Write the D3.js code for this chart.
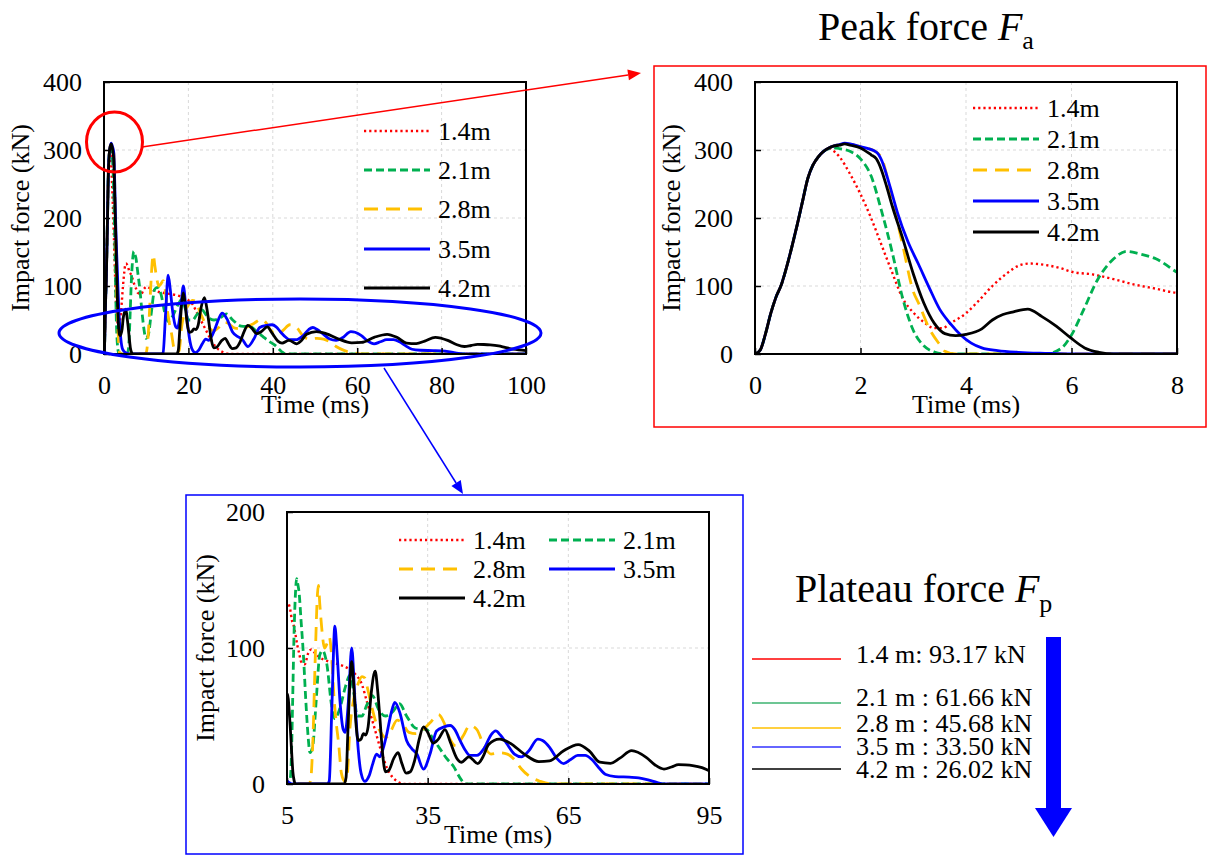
<!DOCTYPE html>
<html>
<head>
<meta charset="utf-8">
<script src="https://cdn.jsdelivr.net/npm/d3@7"></script>
<style>
  body { margin: 0; background: #fff; }
  svg { display: block; }
  text { font-family: "Liberation Serif", "Times New Roman", serif; fill: #000; }
</style>
</head>
<body>
<svg id="fig" width="1208" height="856"></svg>
<script>
// drop heights (m) and plateau forces (kN)
const heights = ["1.4", "2.1", "2.8", "3.5", "4.2"];
const plateauForce = ["93.17", "61.66", "45.68", "33.50", "26.02"];

// time (ms), force (kN) -- first peak is common to all drops
const riseCommon = [[0,0],[0.1,6],[0.2,30],[0.3,60],[0.4,84],[0.5,102],[0.6,128],[0.7,158],
  [0.8,190],[0.9,224],[1.0,258],[1.1,278],[1.2,290],[1.3,298]];

const h14 = [[1.4,303],[1.5,298],[1.6,290],[1.8,265],[2.0,235],[2.2,200],[2.4,160],[2.6,120],
  [2.8,82],[3.0,61],[3.2,47],[3.4,38],[3.55,38],[3.7,45],[4.0,60],[4.2,75],[4.5,100],[4.8,120],
  [5.0,130],[5.2,133],[5.5,131],[5.8,126],[6.0,121],[6.4,117],[6.8,110],[7.2,102],[7.6,96],
  [8.0,90],[8.8,88],[9.5,96],[10.2,99],[11,96],[12,93],[14,90],[16,88],[18,85],[19.5,81],
  [21,73],[22,61],[23,49],[24,37],[25,25],[26.3,12],[27.5,5],[28.5,2],[30,0],[100,0]];

const h21 = [[1.4,302],[1.5,303],[1.6,302],[1.8,298],[2.0,287],[2.2,262],[2.4,210],[2.6,150],
  [2.8,82],[3.0,35],[3.2,12],[3.4,3],[3.6,0],[5.5,0],[5.8,8],[6.0,28],[6.2,60],[6.5,110],
  [6.8,140],[7.05,151],[7.3,147],[7.6,140],[8,120],[8.5,95],[9,62],[9.5,35],[9.9,23],[10.5,28],
  [11.2,60],[12,95],[12.6,98],[13.5,88],[14.5,58],[15.2,48],[16.3,56],[17.5,72],[18.4,80],
  [19.2,68],[20,50],[21,50],[22,58],[23.2,65],[24.5,55],[26,50],[27.5,53],[29,59],[30.5,50],
  [32.5,41],[34.8,40],[36,34],[37.6,26],[39,19],[40.5,13],[42,4],[43,0],[100,0]];

const h28 = [[1.4,303],[1.5,306],[1.6,308],[1.7,309],[2.0,305],[2.3,297],[2.4,288],[2.6,228],
  [2.8,160],[3.0,92],[3.1,75],[3.3,38],[3.5,14],[3.6,4],[3.8,0],[9.5,0],[10,2],[10.5,30],
  [11,90],[11.5,140],[11.7,146],[12,132],[12.4,115],[13,100],[13.5,103],[14,108],[14.5,95],
  [15,65],[15.5,45],[16,30],[16.6,8],[17.3,2],[17.8,5],[18.4,40],[19.2,62],[20,72],[21,79],
  [21.6,78],[22.2,70],[23,58],[24,45],[25,38],[26,34],[27,38],[28.5,47],[29.5,45],[31,38],
  [32.5,37],[34,40],[35.5,45],[37.3,51],[38.5,45],[39.5,35],[41,28],[42.5,35],[44,43],
  [45.5,40],[47,28],[48.5,22],[50.5,23],[52,22],[53.5,18],[55,11],[57,5],[59,2],[61.5,0],[100,0]];

const h35 = [[1.4,303],[1.5,306],[1.6,308],[1.7,310],[2.0,305],[2.3,297],[2.4,285],[2.5,262],
  [2.6,235],[2.7,208],[2.9,165],[3.1,132],[3.3,98],[3.5,66],[3.7,45],[3.9,28],[4.1,16],[4.3,9],
  [4.6,5],[5.0,2.5],[5.5,1],[6.0,0],[13.6,0],[14,2],[14.6,60],[15.2,116],[15.7,95],[16.3,61],
  [17,40],[17.4,38],[18.1,61],[18.8,100],[19.5,61],[20.2,25],[20.8,8],[21.6,2],[22.5,6],
  [23.3,15],[24.1,22],[24.8,20],[25.5,26],[26.3,37],[27.2,52],[28,60],[29.1,52],[30.5,32],
  [31.6,26],[32.7,22],[34.1,11],[35.5,22],[36.9,39],[38.5,42],[39.8,43],[40.8,40],[41.9,32],
  [43,25],[44,21],[45.5,21],[47,26],[48.5,36],[49.5,39],[50.5,36],[51.8,30],[53.5,22],[55,20],
  [56.5,24],[58.5,33],[59.5,32],[61,27],[62.5,19],[64,15],[65.5,18],[67,21],[68.6,21],[70,18],
  [71.5,12],[73,7],[75,5.5],[78,5],[80,4.5],[82,3],[84,1],[85.5,0],[100,0]];

const h42 = [[1.4,303],[1.5,306],[1.6,307],[1.7,309],[1.8,307],[2.0,303],[2.2,293],[2.3,287],
  [2.4,270],[2.5,245],[2.6,218],[2.8,170],[3.0,118],[3.2,75],[3.4,45],[3.6,30],[3.8,27],
  [4.0,29],[4.3,37],[4.5,50],[4.7,58],[4.9,62],[5.17,66],[5.44,55],[5.71,41],[5.98,24],
  [6.25,9],[6.52,2.5],[6.8,0],[17.2,0],[17.6,5],[18.0,40],[18.5,80],[18.8,90],[19.2,75],
  [19.7,45],[20.2,32],[20.8,33],[21.3,37],[21.8,36],[22.3,42],[23,68],[23.8,83],[24.3,70],
  [24.8,49],[25.4,22],[26,9],[26.7,10],[27.8,19],[28.7,23],[29.5,15],[30.4,8],[31.3,9],
  [32.2,17],[33.2,33],[34.1,42],[35,38],[36.2,30],[37.3,33],[38.7,40],[39.8,31],[41.2,19],
  [42.2,16],[43.8,20],[45.7,15],[46.8,20],[48,29],[50.3,33],[52.6,30],[55.6,22],[58.7,16.5],
  [61,17],[64,24.5],[67.1,29],[69.4,24.5],[71.7,16],[74,15.2],[76,19],[78.5,24.5],[81.6,19.6],
  [83.5,14],[85.4,11],[87,12.5],[88.5,14.2],[90,14],[91.5,13.5],[93.5,12],[95,9.8],[97,7],[100,5]];

const series = [h14, h21, h28, h35, h42].map(d => riseCommon.concat(d));

const styles = [
  { color: "#ff0000", dash: "2.2 3", w: 2.4 },
  { color: "#00b050", dash: "8 4", w: 2.8 },
  { color: "#ffc000", dash: "14 8", w: 2.8 },
  { color: "#0000ff", dash: null, w: 2.8 },
  { color: "#000000", dash: null, w: 2.8 }
];

const svg = d3.select("#fig");
const W = 422, H = 272;
const FS = 26;

function drawPanel(cfg) {
  const x = d3.scaleLinear().domain(cfg.xDom).range([0, W]);
  const y = d3.scaleLinear().domain(cfg.yDom).range([H, 0]);
  const g = svg.append("g").attr("transform", `translate(${cfg.x},${cfg.y})`);

  // grid
  g.append("g").selectAll("line").data(cfg.xTicks.slice(1, -1)).join("line")
    .attr("x1", d => x(d)).attr("x2", d => x(d)).attr("y1", 0).attr("y2", H)
    .attr("stroke", "#d9d9d9").attr("stroke-dasharray", "3 3");
  g.append("g").selectAll("line").data(cfg.yTicks.slice(1, -1)).join("line")
    .attr("y1", d => y(d)).attr("y2", d => y(d)).attr("x1", 0).attr("x2", W)
    .attr("stroke", "#d9d9d9").attr("stroke-dasharray", "3 3");

  const clipId = "clip" + cfg.id;
  g.append("clipPath").attr("id", clipId).append("rect")
    .attr("x", 0).attr("y", 0).attr("width", W).attr("height", H);

  const line = d3.line().x(d => x(d[0])).y(d => y(d[1])).curve(d3.curveMonotoneX);
  g.append("g").attr("clip-path", `url(#${clipId})`)
    .selectAll("path").data(series).join("path")
    .attr("d", line)
    .attr("fill", "none")
    .attr("stroke", (d, i) => styles[i].color)
    .attr("stroke-width", (d, i) => styles[i].w)
    .attr("stroke-dasharray", (d, i) => styles[i].dash)
    .attr("stroke-linejoin", "round");

  // axes (inside ticks)
  const ax = g.append("g").attr("transform", `translate(0,${H})`)
    .call(d3.axisBottom(x).tickValues(cfg.xTicks).tickSizeInner(-6).tickSizeOuter(0).tickPadding(22));
  const ay = g.append("g")
    .call(d3.axisLeft(y).tickValues(cfg.yTicks).tickSizeInner(-6).tickSizeOuter(0).tickPadding(22));
  [ax, ay].forEach(a => {
    a.select(".domain").remove();
    a.attr("font-family", null).attr("font-size", FS);
    a.selectAll(".tick line").attr("stroke", "#000").attr("stroke-width", 1.5);
  });

  g.append("rect").attr("width", W).attr("height", H)
    .attr("fill", "none").attr("stroke", "#000").attr("stroke-width", 2);

  g.append("text").attr("x", W / 2).attr("y", H + 59).attr("text-anchor", "middle")
    .attr("font-size", FS).text("Time (ms)");
  g.append("text").attr("transform", `translate(${cfg.yTitleX},${H / 2}) rotate(-90)`)
    .attr("text-anchor", "middle").attr("font-size", FS).text("Impact force (kN)");

  // legend
  const lg = g.append("g");
  heights.forEach((h, i) => {
    const p = cfg.legend[i];
    lg.append("line").attr("x1", p[0]).attr("x2", p[0] + cfg.legendLen).attr("y1", p[1]).attr("y2", p[1])
      .attr("stroke", styles[i].color).attr("stroke-width", styles[i].w)
      .attr("stroke-dasharray", styles[i].dash);
    lg.append("text").attr("x", p[0] + cfg.legendLen + 8).attr("y", p[1] + 9)
      .attr("font-size", FS).text(h + "m");
  });
}

drawPanel({
  id: "a", x: 104, y: 82, xDom: [0, 100], yDom: [0, 400],
  xTicks: [0, 20, 40, 60, 80, 100], yTicks: [0, 100, 200, 300, 400], yTitleX: -75,
  legendLen: 66, legend: [[260, 49], [260, 88], [260, 127], [260, 167], [260, 206]]
});
drawPanel({
  id: "b", x: 755, y: 82, xDom: [0, 8], yDom: [0, 400],
  xTicks: [0, 2, 4, 6, 8], yTicks: [0, 100, 200, 300, 400], yTitleX: -75,
  legendLen: 66, legend: [[218, 26], [218, 57], [218, 88], [218, 119], [218, 150]]
});
drawPanel({
  id: "c", x: 287, y: 512, xDom: [5, 95], yDom: [0, 200],
  xTicks: [5, 35, 65, 95], yTicks: [0, 100, 200], yTitleX: -73,
  legendLen: 66, legend: [[112, 28], [262, 28], [112, 57], [262, 57], [112, 86]]
});

// frames around the zoomed panels
svg.append("rect").attr("x", 654).attr("y", 66).attr("width", 552).attr("height", 361)
  .attr("fill", "none").attr("stroke", "#ff0000").attr("stroke-width", 1.5);
svg.append("rect").attr("x", 186).attr("y", 495).attr("width", 557).attr("height", 359)
  .attr("fill", "none").attr("stroke", "#0000ff").attr("stroke-width", 1.5);

// highlight marks
svg.append("ellipse").attr("cx", 114.5).attr("cy", 142).attr("rx", 28).attr("ry", 30)
  .attr("fill", "none").attr("stroke", "#ff0000").attr("stroke-width", 3);
svg.append("ellipse").attr("cx", 300).attr("cy", 333).attr("rx", 241).attr("ry", 34)
  .attr("fill", "none").attr("stroke", "#0000ff").attr("stroke-width", 3);

function arrow(x1, y1, x2, y2, color) {
  const a = Math.atan2(y2 - y1, x2 - x1), L = 13, Wd = 5.5;
  const bx = x2 - L * Math.cos(a), by = y2 - L * Math.sin(a);
  svg.append("line").attr("x1", x1).attr("y1", y1).attr("x2", bx).attr("y2", by)
    .attr("stroke", color).attr("stroke-width", 1.5);
  const px = -Math.sin(a) * Wd, py = Math.cos(a) * Wd;
  svg.append("polygon")
    .attr("points", [[x2, y2], [bx + px, by + py], [bx - px, by - py]].map(p => p.join(",")).join(" "))
    .attr("fill", color);
}
arrow(142, 147, 641, 73, "#ff0000");
arrow(384, 368, 463, 494, "#0000ff");

// titles
const t1 = svg.append("text").attr("x", 818).attr("y", 40).attr("font-size", 40);
t1.append("tspan").text("Peak force ");
t1.append("tspan").attr("font-style", "italic").text("F");
t1.append("tspan").attr("font-size", 26).attr("dy", 9).text("a");

const t2 = svg.append("text").attr("x", 795).attr("y", 602).attr("font-size", 40);
t2.append("tspan").text("Plateau force ");
t2.append("tspan").attr("font-style", "italic").text("F");
t2.append("tspan").attr("font-size", 26).attr("dy", 10).text("p");

// plateau force list
const plateauColors = ["#ff0000", "#3cb371", "#ffc000", "#3333ff", "#000000"];
const lineY = [659, 703, 728, 747, 769];
const textY = [663, 706, 732, 755, 778];
heights.forEach((h, i) => {
  svg.append("line").attr("x1", 752).attr("x2", 841).attr("y1", lineY[i]).attr("y2", lineY[i])
    .attr("stroke", plateauColors[i]).attr("stroke-width", 1.5);
  svg.append("text").attr("x", 856).attr("y", textY[i]).attr("font-size", FS)
    .text(i === 0 ? `${h} m: ${plateauForce[i]} kN` : `${h} m : ${plateauForce[i]} kN`);
});

// big downward arrow
svg.append("rect").attr("x", 1046).attr("y", 637).attr("width", 15).attr("height", 172).attr("fill", "#0000ff");
svg.append("polygon").attr("points", "1035,808 1072,808 1053.5,837").attr("fill", "#0000ff");
</script>
</body>
</html>
